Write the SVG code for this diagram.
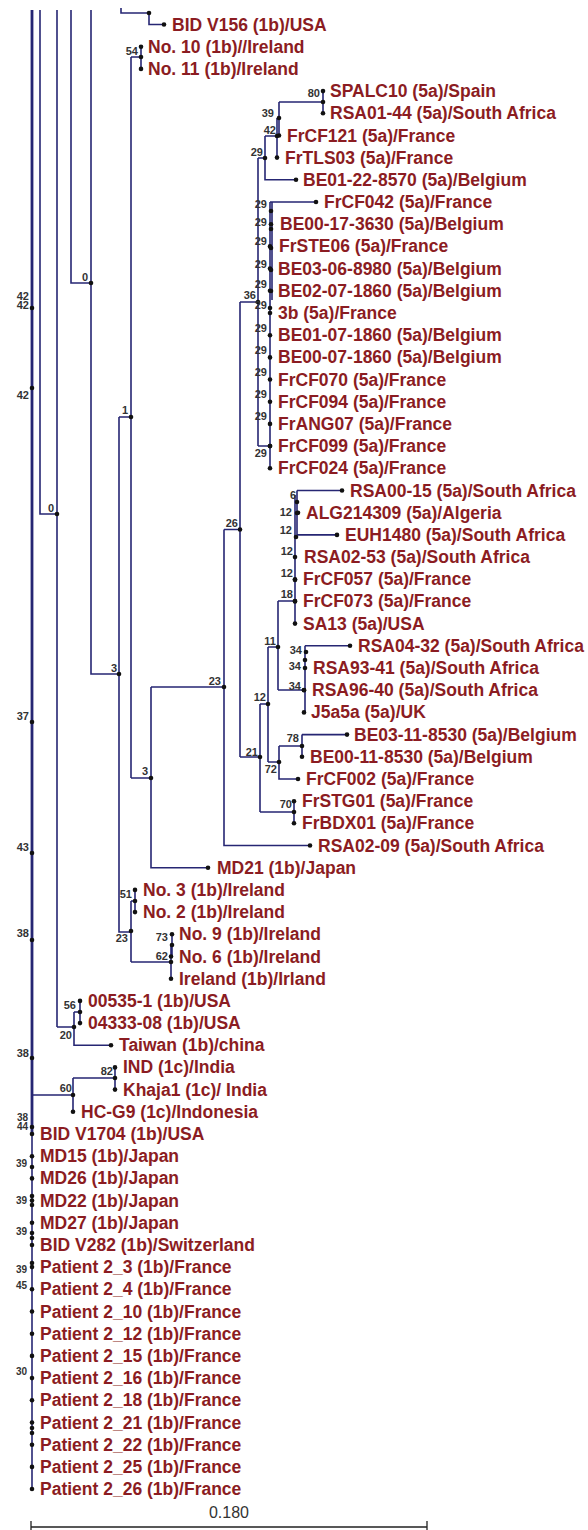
<svg xmlns="http://www.w3.org/2000/svg" width="588" height="1530" viewBox="0 0 588 1530">
<style>
.t{font-family:"Liberation Sans",Arial,sans-serif;font-weight:bold;font-size:17.5px;fill:#8b1c22}
.b{font-family:"Liberation Sans",Arial,sans-serif;font-weight:bold;font-size:11px;fill:#333;text-anchor:end}
.bs{font-family:"Liberation Sans",Arial,sans-serif;font-weight:bold;font-size:10px;fill:#333;text-anchor:end}
.ln{fill:none;stroke:#262673;stroke-width:1.6}
.thick{fill:none;stroke:#262673;stroke-width:2.8}
.sc{fill:none;stroke:#222;stroke-width:1.3}
circle{fill:#111}
.s{font-family:"Liberation Sans",Arial,sans-serif;font-size:16px;fill:#333;text-anchor:middle}
</style>
<rect width="588" height="1530" fill="#fff"/>
<g id="connectors">
<path class="thick" d="M32 10V1134"/>
<path class="ln" d="M32 1134V1489"/>
<path class="ln" d="M40 10V514H57M57 10V1027M71 10V283H91M91 10V674H119"/>
<path class="ln" d="M121 8V13H149V24.5H164"/>
<path class="ln" d="M131 57H141M141 46.7V68.9M131 57V778M119 417H131M119 417V932H131"/>
<path class="ln" d="M131 901V962M131 901H135M135 889.9V912.1M131 962H171M171 945V978.7M171 945H172M172 934.3V956.5"/>
<path class="ln" d="M131 778H151M151 687V867.7H208M151 687H224M224 529.5V845.5H310M224 529.5H240M240 302V757"/>
<path class="ln" d="M240 302H258M258 158V446M258 158H265M265 136V179.8H296M265 136H277M277 118V157.6M277 118H279M279 102V135.5M279 102H323M323 91.1V113.3"/>
<path class="ln" d="M258 446H270M270 202V468.3M270 202H316"/>
<path class="ln" d="M272 202V300"/>
<path class="ln" d="M240 757H260M260 704V812M260 704H268M268 647V762M268 647H278M278 601V690M278 601H295M295 495V623.6M297 490.5V535M297 490.5H342M297 534.9H337"/>
<path class="ln" d="M278 690H304M305 645.8V712.4M305 645.8H350"/>
<path class="ln" d="M268 762H279M279 746V779H298M279 746H302M302 734.6V756.8M302 734.6H347"/>
<path class="ln" d="M260 812H294M294 801.2V823.3"/>
<path class="ln" d="M57 1027H74M74 1012V1045.2H111M74 1012H80M80 1000.9V1023.1"/>
<path class="ln" d="M32 1095H73M73 1078V1111.8M73 1078H115M115 1067.4V1089.6"/>
</g>
<g id="scale-bar">
<path class="sc" d="M31 1527H427M31 1521V1532M427 1521V1532"/>
<text class="s" x="229" y="1518">0.180</text>
</g>
<g id="tip-0"><circle cx="164" cy="24.5" r="2.3"/><text class="t" x="172" y="30.5">BID V156 (1b)/USA</text></g>
<g id="tip-1"><circle cx="141" cy="46.7" r="2.3"/><text class="t" x="148" y="52.7">No. 10 (1b)//Ireland</text></g>
<g id="tip-2"><circle cx="141" cy="68.9" r="2.3"/><text class="t" x="148" y="74.9">No. 11 (1b)/Ireland</text></g>
<g id="tip-3"><circle cx="323" cy="91.1" r="2.3"/><text class="t" x="330" y="97.1">SPALC10 (5a)/Spain</text></g>
<g id="tip-4"><circle cx="323" cy="113.3" r="2.3"/><text class="t" x="330" y="119.3">RSA01-44 (5a)/South Africa</text></g>
<g id="tip-5"><circle cx="279" cy="135.5" r="2.3"/><text class="t" x="287" y="141.5">FrCF121 (5a)/France</text></g>
<g id="tip-6"><circle cx="277" cy="157.6" r="2.3"/><text class="t" x="285" y="163.6">FrTLS03 (5a)/France</text></g>
<g id="tip-7"><circle cx="296" cy="179.8" r="2.3"/><text class="t" x="303" y="185.8">BE01-22-8570 (5a)/Belgium</text></g>
<g id="tip-8"><circle cx="316" cy="202" r="2.3"/><text class="t" x="324" y="208">FrCF042 (5a)/France</text></g>
<g id="tip-9"><circle cx="271" cy="224.2" r="2.3"/><text class="t" x="280" y="230.2">BE00-17-3630 (5a)/Belgium</text></g>
<g id="tip-10"><circle cx="270" cy="246.4" r="2.3"/><text class="t" x="279" y="252.4">FrSTE06 (5a)/France</text></g>
<g id="tip-11"><circle cx="270" cy="268.6" r="2.3"/><text class="t" x="278" y="274.6">BE03-06-8980 (5a)/Belgium</text></g>
<g id="tip-12"><circle cx="270" cy="290.8" r="2.3"/><text class="t" x="278" y="296.8">BE02-07-1860 (5a)/Belgium</text></g>
<g id="tip-13"><circle cx="270" cy="313" r="2.3"/><text class="t" x="278" y="319">3b (5a)/France</text></g>
<g id="tip-14"><circle cx="270" cy="335.2" r="2.3"/><text class="t" x="278" y="341.2">BE01-07-1860 (5a)/Belgium</text></g>
<g id="tip-15"><circle cx="270" cy="357.4" r="2.3"/><text class="t" x="278" y="363.4">BE00-07-1860 (5a)/Belgium</text></g>
<g id="tip-16"><circle cx="270" cy="379.5" r="2.3"/><text class="t" x="278" y="385.5">FrCF070 (5a)/France</text></g>
<g id="tip-17"><circle cx="270" cy="401.7" r="2.3"/><text class="t" x="278" y="407.7">FrCF094 (5a)/France</text></g>
<g id="tip-18"><circle cx="270" cy="423.9" r="2.3"/><text class="t" x="278" y="429.9">FrANG07 (5a)/France</text></g>
<g id="tip-19"><circle cx="270" cy="446.1" r="2.3"/><text class="t" x="278" y="452.1">FrCF099 (5a)/France</text></g>
<g id="tip-20"><circle cx="270" cy="468.3" r="2.3"/><text class="t" x="278" y="474.3">FrCF024 (5a)/France</text></g>
<g id="tip-21"><circle cx="342" cy="490.5" r="2.3"/><text class="t" x="350" y="496.5">RSA00-15 (5a)/South Africa</text></g>
<g id="tip-22"><circle cx="298" cy="512.7" r="2.3"/><text class="t" x="306" y="518.7">ALG214309 (5a)/Algeria</text></g>
<g id="tip-23"><circle cx="337" cy="534.9" r="2.3"/><text class="t" x="345" y="540.9">EUH1480 (5a)/South Africa</text></g>
<g id="tip-24"><circle cx="295" cy="557.1" r="2.3"/><text class="t" x="304" y="563.1">RSA02-53 (5a)/South Africa</text></g>
<g id="tip-25"><circle cx="295" cy="579.3" r="2.3"/><text class="t" x="303" y="585.3">FrCF057 (5a)/France</text></g>
<g id="tip-26"><circle cx="295" cy="601.4" r="2.3"/><text class="t" x="303" y="607.4">FrCF073 (5a)/France</text></g>
<g id="tip-27"><circle cx="295" cy="623.6" r="2.3"/><text class="t" x="303" y="629.6">SA13 (5a)/USA</text></g>
<g id="tip-28"><circle cx="350" cy="645.8" r="2.3"/><text class="t" x="358" y="651.8">RSA04-32 (5a)/South Africa</text></g>
<g id="tip-29"><circle cx="305" cy="668" r="2.3"/><text class="t" x="313" y="674">RSA93-41 (5a)/South Africa</text></g>
<g id="tip-30"><circle cx="304" cy="690.2" r="2.3"/><text class="t" x="312" y="696.2">RSA96-40 (5a)/South Africa</text></g>
<g id="tip-31"><circle cx="304" cy="712.4" r="2.3"/><text class="t" x="311" y="718.4">J5a5a (5a)/UK</text></g>
<g id="tip-32"><circle cx="347" cy="734.6" r="2.3"/><text class="t" x="354" y="740.6">BE03-11-8530 (5a)/Belgium</text></g>
<g id="tip-33"><circle cx="302" cy="756.8" r="2.3"/><text class="t" x="310" y="762.8">BE00-11-8530 (5a)/Belgium</text></g>
<g id="tip-34"><circle cx="298" cy="779" r="2.3"/><text class="t" x="306" y="785">FrCF002 (5a)/France</text></g>
<g id="tip-35"><circle cx="294" cy="801.2" r="2.3"/><text class="t" x="302" y="807.2">FrSTG01 (5a)/France</text></g>
<g id="tip-36"><circle cx="294" cy="823.3" r="2.3"/><text class="t" x="302" y="829.3">FrBDX01 (5a)/France</text></g>
<g id="tip-37"><circle cx="310" cy="845.5" r="2.3"/><text class="t" x="318" y="851.5">RSA02-09 (5a)/South Africa</text></g>
<g id="tip-38"><circle cx="208" cy="867.7" r="2.3"/><text class="t" x="217" y="873.7">MD21 (1b)/Japan</text></g>
<g id="tip-39"><circle cx="135" cy="889.9" r="2.3"/><text class="t" x="143" y="895.9">No. 3 (1b)/Ireland</text></g>
<g id="tip-40"><circle cx="135" cy="912.1" r="2.3"/><text class="t" x="143" y="918.1">No. 2 (1b)/Ireland</text></g>
<g id="tip-41"><circle cx="172" cy="934.3" r="2.3"/><text class="t" x="179" y="940.3">No. 9 (1b)/Ireland</text></g>
<g id="tip-42"><circle cx="171" cy="956.5" r="2.3"/><text class="t" x="179" y="962.5">No. 6 (1b)/Ireland</text></g>
<g id="tip-43"><circle cx="171" cy="978.7" r="2.3"/><text class="t" x="179" y="984.7">Ireland (1b)/Irland</text></g>
<g id="tip-44"><circle cx="80" cy="1000.9" r="2.3"/><text class="t" x="88" y="1006.9">00535-1 (1b)/USA</text></g>
<g id="tip-45"><circle cx="80" cy="1023.1" r="2.3"/><text class="t" x="88" y="1029.1">04333-08 (1b)/USA</text></g>
<g id="tip-46"><circle cx="111" cy="1045.2" r="2.3"/><text class="t" x="119" y="1051.2">Taiwan (1b)/china</text></g>
<g id="tip-47"><circle cx="115" cy="1067.4" r="2.3"/><text class="t" x="123" y="1073.4">IND (1c)/India</text></g>
<g id="tip-48"><circle cx="115" cy="1089.6" r="2.3"/><text class="t" x="123" y="1095.6">Khaja1 (1c)/ India</text></g>
<g id="tip-49"><circle cx="73" cy="1111.8" r="2.3"/><text class="t" x="81" y="1117.8">HC-G9 (1c)/Indonesia</text></g>
<g id="tip-50"><circle cx="32" cy="1134" r="2.3"/><text class="t" x="40" y="1140">BID V1704 (1b)/USA</text></g>
<g id="tip-51"><circle cx="32" cy="1156.2" r="2.3"/><text class="t" x="40" y="1162.2">MD15 (1b)/Japan</text></g>
<g id="tip-52"><circle cx="32" cy="1178.4" r="2.3"/><text class="t" x="40" y="1184.4">MD26 (1b)/Japan</text></g>
<g id="tip-53"><circle cx="32" cy="1200.6" r="2.3"/><text class="t" x="40" y="1206.6">MD22 (1b)/Japan</text></g>
<g id="tip-54"><circle cx="32" cy="1222.8" r="2.3"/><text class="t" x="40" y="1228.8">MD27 (1b)/Japan</text></g>
<g id="tip-55"><circle cx="32" cy="1245" r="2.3"/><text class="t" x="40" y="1251">BID V282 (1b)/Switzerland</text></g>
<g id="tip-56"><circle cx="32" cy="1267.1" r="2.3"/><text class="t" x="40" y="1273.1">Patient 2_3 (1b)/France</text></g>
<g id="tip-57"><circle cx="32" cy="1289.3" r="2.3"/><text class="t" x="40" y="1295.3">Patient 2_4 (1b)/France</text></g>
<g id="tip-58"><circle cx="32" cy="1311.5" r="2.3"/><text class="t" x="40" y="1317.5">Patient 2_10 (1b)/France</text></g>
<g id="tip-59"><circle cx="32" cy="1333.7" r="2.3"/><text class="t" x="40" y="1339.7">Patient 2_12 (1b)/France</text></g>
<g id="tip-60"><circle cx="32" cy="1355.9" r="2.3"/><text class="t" x="40" y="1361.9">Patient 2_15 (1b)/France</text></g>
<g id="tip-61"><circle cx="32" cy="1378.1" r="2.3"/><text class="t" x="40" y="1384.1">Patient 2_16 (1b)/France</text></g>
<g id="tip-62"><circle cx="32" cy="1400.3" r="2.3"/><text class="t" x="40" y="1406.3">Patient 2_18 (1b)/France</text></g>
<g id="tip-63"><circle cx="32" cy="1422.5" r="2.3"/><text class="t" x="40" y="1428.5">Patient 2_21 (1b)/France</text></g>
<g id="tip-64"><circle cx="32" cy="1444.7" r="2.3"/><text class="t" x="40" y="1450.7">Patient 2_22 (1b)/France</text></g>
<g id="tip-65"><circle cx="32" cy="1466.9" r="2.3"/><text class="t" x="40" y="1472.9">Patient 2_25 (1b)/France</text></g>
<g id="tip-66"><circle cx="32" cy="1489" r="2.3"/><text class="t" x="40" y="1495">Patient 2_26 (1b)/France</text></g>
<g id="node-v156"><circle cx="149" cy="13" r="2.3"/></g>
<g id="node-54"><circle cx="141" cy="57" r="2.3"/><text class="b" x="138" y="55">54</text></g>
<g id="node-80"><circle cx="323" cy="102" r="2.3"/><text class="b" x="320" y="97">80</text></g>
<g id="node-39a"><circle cx="279" cy="118" r="2.3"/><text class="b" x="274" y="117">39</text></g>
<g id="node-42a"><circle cx="277" cy="136" r="2.3"/><text class="b" x="276" y="134">42</text></g>
<g id="node-29a"><circle cx="265" cy="158" r="2.3"/><text class="b" x="263" y="156">29</text></g>
<g id="node-36"><circle cx="258" cy="302" r="2.3"/><text class="b" x="256" y="299">36</text></g>
<g id="node-29-ladder">
<circle cx="271" cy="211" r="2.3"/><circle cx="271" cy="229" r="2.3"/><circle cx="271" cy="248" r="2.3"/><circle cx="271" cy="270" r="2.3"/><circle cx="271" cy="291" r="2.3"/><circle cx="270" cy="308" r="2.3"/><circle cx="270" cy="446" r="2.3"/>
<text class="b" x="267" y="208">29</text><text class="b" x="267" y="226">29</text><text class="b" x="267" y="245">29</text><text class="b" x="267" y="268">29</text><text class="b" x="267" y="288">29</text><text class="b" x="267" y="309">29</text><text class="b" x="267" y="332">29</text><text class="b" x="267" y="354">29</text><text class="b" x="267" y="376">29</text><text class="b" x="267" y="398">29</text><text class="b" x="267" y="420">29</text><text class="b" x="267" y="457">29</text>
</g>
<g id="node-26"><circle cx="240" cy="529.5" r="2.3"/><text class="b" x="238" y="527">26</text></g>
<g id="node-23a"><circle cx="224" cy="687" r="2.3"/><text class="b" x="221" y="685">23</text></g>
<g id="node-21"><circle cx="260" cy="757" r="2.3"/><text class="b" x="258" y="756">21</text></g>
<g id="node-12a"><circle cx="268" cy="704" r="2.3"/><text class="b" x="266" y="701">12</text></g>
<g id="node-11"><circle cx="278" cy="647" r="2.3"/><text class="b" x="276" y="645">11</text></g>
<g id="node-18"><circle cx="295" cy="601" r="2.3"/><text class="b" x="293" y="598">18</text></g>
<g id="node-12-ladder">
<circle cx="297" cy="502" r="2.3"/><circle cx="297" cy="513" r="2.3"/><circle cx="296" cy="537" r="2.3"/><circle cx="295" cy="580" r="2.3"/>
<text class="b" x="296" y="499">6</text><text class="b" x="292" y="516">12</text><text class="b" x="292" y="534">12</text><text class="b" x="293" y="555">12</text><text class="b" x="293" y="577">12</text>
</g>
<g id="node-34-ladder">
<circle cx="306" cy="652" r="2.3"/><circle cx="305" cy="660" r="2.3"/><circle cx="304" cy="690" r="2.3"/>
<text class="b" x="302" y="654">34</text><text class="b" x="301" y="670">34</text><text class="b" x="301" y="690">34</text>
</g>
<g id="node-72"><circle cx="279" cy="762" r="2.3"/><text class="b" x="277" y="773">72</text></g>
<g id="node-78"><circle cx="302" cy="746" r="2.3"/><text class="b" x="299" y="742">78</text></g>
<g id="node-70"><circle cx="294" cy="812" r="2.3"/><text class="b" x="292" y="808">70</text></g>
<g id="node-3b"><circle cx="151" cy="778" r="2.3"/><text class="b" x="148" y="775">3</text></g>
<g id="node-1"><circle cx="131" cy="417" r="2.3"/><text class="b" x="128" y="414">1</text></g>
<g id="node-3a"><circle cx="119" cy="674" r="2.3"/><text class="b" x="117" y="672">3</text></g>
<g id="node-23b"><circle cx="131" cy="931" r="2.3"/><text class="b" x="128" y="942">23</text></g>
<g id="node-51"><circle cx="135" cy="901" r="2.3"/><text class="b" x="132" y="898">51</text></g>
<g id="node-62"><circle cx="171" cy="962" r="2.3"/><text class="b" x="168" y="960">62</text></g>
<g id="node-73"><circle cx="172" cy="945" r="2.3"/><text class="b" x="168" y="941">73</text></g>
<g id="node-0b"><circle cx="57" cy="514" r="2.3"/><text class="b" x="54" y="512">0</text></g>
<g id="node-20"><circle cx="74" cy="1027" r="2.3"/><text class="b" x="72" y="1039">20</text></g>
<g id="node-56"><circle cx="80" cy="1012" r="2.3"/><text class="b" x="76" y="1009">56</text></g>
<g id="node-0a"><circle cx="91" cy="283" r="2.3"/><text class="b" x="88" y="281">0</text></g>
<g id="node-60"><circle cx="73" cy="1095" r="2.3"/><text class="b" x="72" y="1092">60</text></g>
<g id="node-82"><circle cx="115" cy="1078" r="2.3"/><text class="b" x="113" y="1075">82</text></g>
<g id="node-backbone">
<circle cx="32" cy="308" r="2.3"/><circle cx="32" cy="388" r="2.3"/><circle cx="32" cy="722" r="2.3"/><circle cx="32" cy="853" r="2.3"/><circle cx="32" cy="940" r="2.3"/><circle cx="32" cy="1058" r="2.3"/><circle cx="32" cy="1127" r="2.3"/>
<text class="b" x="29" y="300">42</text><text class="b" x="29" y="309">42</text><text class="b" x="29" y="399">42</text><text class="b" x="29" y="720">37</text><text class="b" x="29" y="851">43</text><text class="b" x="29" y="937">38</text><text class="b" x="29" y="1057">38</text><text class="bs" x="28" y="1121">38</text><text class="bs" x="28" y="1130">44</text>
</g>
<g id="node-bottom-comb">
<circle cx="32" cy="1167" r="2.3"/><circle cx="32" cy="1196" r="2.3"/><circle cx="32" cy="1205" r="2.3"/><circle cx="32" cy="1233" r="2.3"/><circle cx="32" cy="1238" r="2.3"/><circle cx="32" cy="1263" r="2.3"/><circle cx="32" cy="1428" r="2.3"/><circle cx="32" cy="1433" r="2.3"/>
<text class="bs" x="27" y="1167">39</text><text class="bs" x="27" y="1204">39</text><text class="bs" x="27" y="1235">39</text><text class="bs" x="27" y="1273">39</text><text class="bs" x="27" y="1289">45</text><text class="bs" x="27" y="1375">30</text>
</g>
</svg>
